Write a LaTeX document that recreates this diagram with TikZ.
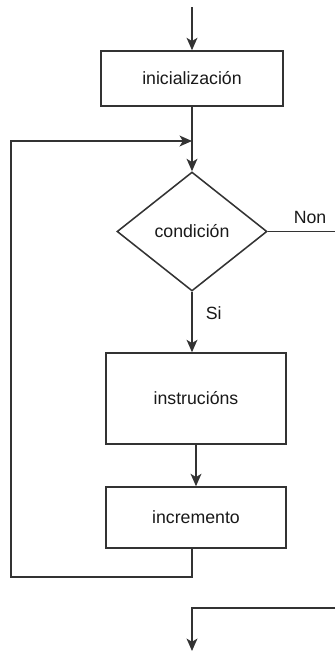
\documentclass[tikz,border=0pt]{standalone}
\usepackage{fontspec}
\setmainfont{Liberation Sans}
\usetikzlibrary{positioning,shapes.geometric,arrows.meta}

\begin{document}
\begin{tikzpicture}[
        x=0.25mm, y=-0.25mm,
        box/.style={rectangle, draw=black!80, line width=1.1pt, fill=white, text=black!90, font=\fontsize{12.6pt}{15pt}\selectfont},
        test/.style={diamond, draw=black!80, line width=1.1pt, inner sep=0pt, text=black!90, font=\fontsize{12.6pt}{15pt}\selectfont, minimum width=37.5mm, minimum height=29.75mm},
        arr/.style={-{Stealth[length=3.1mm, width=2.7mm, inset=0.8mm]}, line width=1.1pt, draw=black!80},
        line/.style={line width=1.1pt, draw=black!80},
        lbl/.style={text=black!90, font=\fontsize{12.6pt}{15pt}\selectfont}
    ]
    \useasboundingbox (0,0) rectangle (335,653);

    % blocks of the loop
    \node[box, minimum width=45.5mm, minimum height=13.75mm] (ini) at (192,78.5) {inicialización};
    \node[test] (cond) at (192,231.5) {condición};
    \node[box, minimum width=45mm, minimum height=22.75mm] (instr) at (196,398.5) {instrucións};
    \node[box, minimum width=45mm, minimum height=15.25mm] (incr) at (196,517.5) {incremento};

    % free ends
    \coordinate (start) at (192,7);
    \coordinate (join) at (192,141);
    \coordinate (back) at (11,577);
    \coordinate (nonend) at (335,231.5);
    \coordinate (exit) at (335,608);
    \coordinate (stop) at (192,651);

    % flow
    \draw[arr] (start) -- (ini);
    \draw[arr] (ini) -- (cond);
    \draw[arr] (cond.south) -- node[lbl, right=6pt, pos=0.35] {Si} (cond.south |- instr.north);
    \draw[arr] (instr) -- (incr);
    \draw[arr] (incr.south -| cond.south) |- (back) |- (join);
    \draw[line] (cond.east) -- (nonend);
    \node[lbl] (non) at (310,217) {Non};
    \draw[arr] (exit) -| (stop);
\end{tikzpicture}
\end{document}
